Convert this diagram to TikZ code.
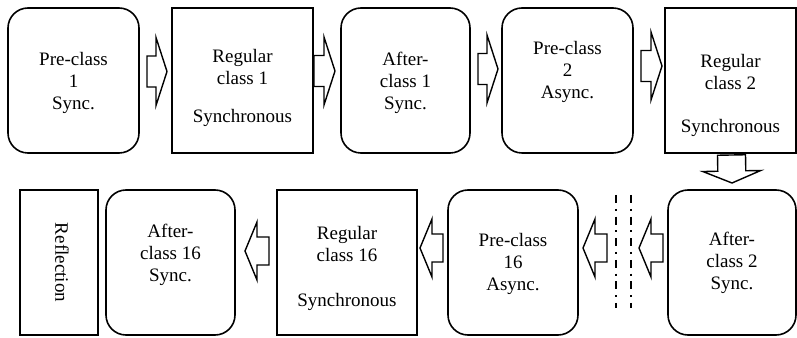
\documentclass[tikz,border=0pt]{standalone}
\usepackage{fontspec}
\setmainfont{Liberation Serif}
\usetikzlibrary{calc,positioning}

% hollow block arrow from #1 (tail) to #2 (tip)
\newcommand{\fatarrow}[2]{%
  \coordinate (fa-a) at (#1);
  \coordinate (fa-b) at (#2);
  \coordinate (fa-h) at ($(fa-b)!\headlen!(fa-a)$);
  \draw[fat] ($(fa-a)!\shaftw!90:(fa-b)$) -- ($(fa-h)!\shaftw!-90:(fa-a)$)
    -- ($(fa-h)!\headw!-90:(fa-a)$) -- (fa-b) -- ($(fa-h)!\headw!90:(fa-a)$)
    -- ($(fa-h)!\shaftw!90:(fa-a)$) -- ($(fa-a)!\shaftw!-90:(fa-b)$) -- cycle;}

\begin{document}
\begin{tikzpicture}[x=0.5pt,y=0.5pt,node distance=0 and 0]
\tikzstyle{rbox}=[draw,line width=0.8pt,rounded corners=10pt,minimum height=72.5pt,inner sep=0pt,outer sep=0pt]
\tikzstyle{sbox}=[draw,line width=1.3pt,minimum height=72.5pt,inner sep=0pt,outer sep=0pt]
\tikzstyle{txt}=[font=\fontsize{9.5}{11}\selectfont,align=center,inner sep=0pt]
\tikzstyle{fat}=[line width=0.7pt,line join=miter]
\tikzstyle{sepline}=[line width=1pt,dash pattern=on 4pt off 2.9pt on 1pt off 2.9pt]

\useasboundingbox (0,0) rectangle (797,337);

% first week row, left to right
\draw node[rbox,minimum width=65.5pt] (pre1) at (73.5,256.5) {}
      node[sbox,minimum width=70.5pt,right=16.5pt of pre1] (reg1) {}
      node[rbox,minimum width=64.5pt,right=14pt of reg1] (aft1) {}
      node[rbox,minimum width=65.5pt,right=16pt of aft1] (pre2) {}
      node[sbox,minimum width=65.5pt,right=16pt of pre2] (reg2) {};

% last week row, right to left
\draw node[rbox,minimum width=64pt,anchor=north east] (aft2) at ($(reg2.south east)+(0,-18.5pt)$) {}
      node[rbox,minimum width=65pt,left=45pt of aft2] (pre16) {}
      node[sbox,minimum width=70pt,left=15.5pt of pre16] (reg16) {}
      node[rbox,minimum width=64.5pt,left=21pt of reg16] (aft16) {}
      node[sbox,minimum width=39pt,left=4pt of aft16] (refl) {};

% texts
\node[txt] (pre1-t) at ($(pre1.center)+(0,-1pt)$) {Pre-class\\1\\Sync.};
\node[txt] (reg1-t) at ($(reg1.center)+(0,-3.5pt)$) {Regular\\class 1\\[8pt]Synchronous};
\node[txt] (aft1-t) at ($(aft1.center)+(0,-1pt)$) {After-\\class 1\\Sync.};
\node[txt] (pre2-t) at ($(pre2.center)+(0,4.5pt)$) {Pre-class\\2\\Async.};
\node[txt] (reg2-t) at ($(reg2.center)+(0,-7.25pt)$) {Regular\\class 2\\[10.5pt]Synchronous};
\node[txt] (aft2-t) at (aft2.center) {After-\\class 2\\Sync.};
\node[txt] (pre16-t) at ($(pre16.center)+(0,-0.5pt)$) {Pre-class\\16\\Async.};
\node[txt] (reg16-t) at ($(reg16.center)+(0,-3pt)$) {Regular\\class 16\\[11.5pt]Synchronous};
\node[txt] (aft16-t) at ($(aft16.center)+(0,3.75pt)$) {After-\\class 16\\Sync.};
\node[txt,rotate=-90] (refl-t) at ($(refl.center)+(1.5pt,0)$) {Reflection};

% arrows along the top row
\def\headlen{5.5pt}
\def\headw{17pt}
\def\shaftw{7.75pt}
\fatarrow{$(pre1.east)+(4pt,4.5pt)$}{$(reg1.west)+(-2.5pt,4.5pt)$}
\fatarrow{$(reg1.east)+(0.5pt,4.75pt)$}{$(aft1.west)+(-3pt,4.75pt)$}
\fatarrow{$(aft1.east)+(4pt,5.75pt)$}{$(pre2.west)+(-2pt,5.75pt)$}
\fatarrow{$(pre2.east)+(4pt,7.25pt)$}{$(reg2.west)+(-1.5pt,7.25pt)$}

% down and back along the bottom row
\def\headlen{6pt}
\def\headw{14.5pt}
\def\shaftw{7pt}
\fatarrow{$(reg2.south)+(0.5pt,-1pt)$}{$(aft2.north)+(0,3.5pt)$}
\coordinate (gap-r) at ($(aft2.west)+(-14.5pt,7.25pt)$);
\coordinate (gap-l) at ($(pre16.east)+(14.5pt,7.25pt)$);
\fatarrow{$(aft2.west)+(-2.5pt,7.25pt)$}{gap-r}
\fatarrow{gap-l}{$(pre16.east)+(2.5pt,7.25pt)$}
\fatarrow{$(pre16.west)+(-2.5pt,7.25pt)$}{$(reg16.east)+(1.5pt,7.25pt)$}
\fatarrow{$(reg16.west)+(-4pt,5.75pt)$}{$(aft16.east)+(5pt,5.75pt)$}

% skipped weeks
\draw[sepline] (616,142) -- (616,29);
\draw[sepline] (631,142) -- (631,29);
\end{tikzpicture}
\end{document}
